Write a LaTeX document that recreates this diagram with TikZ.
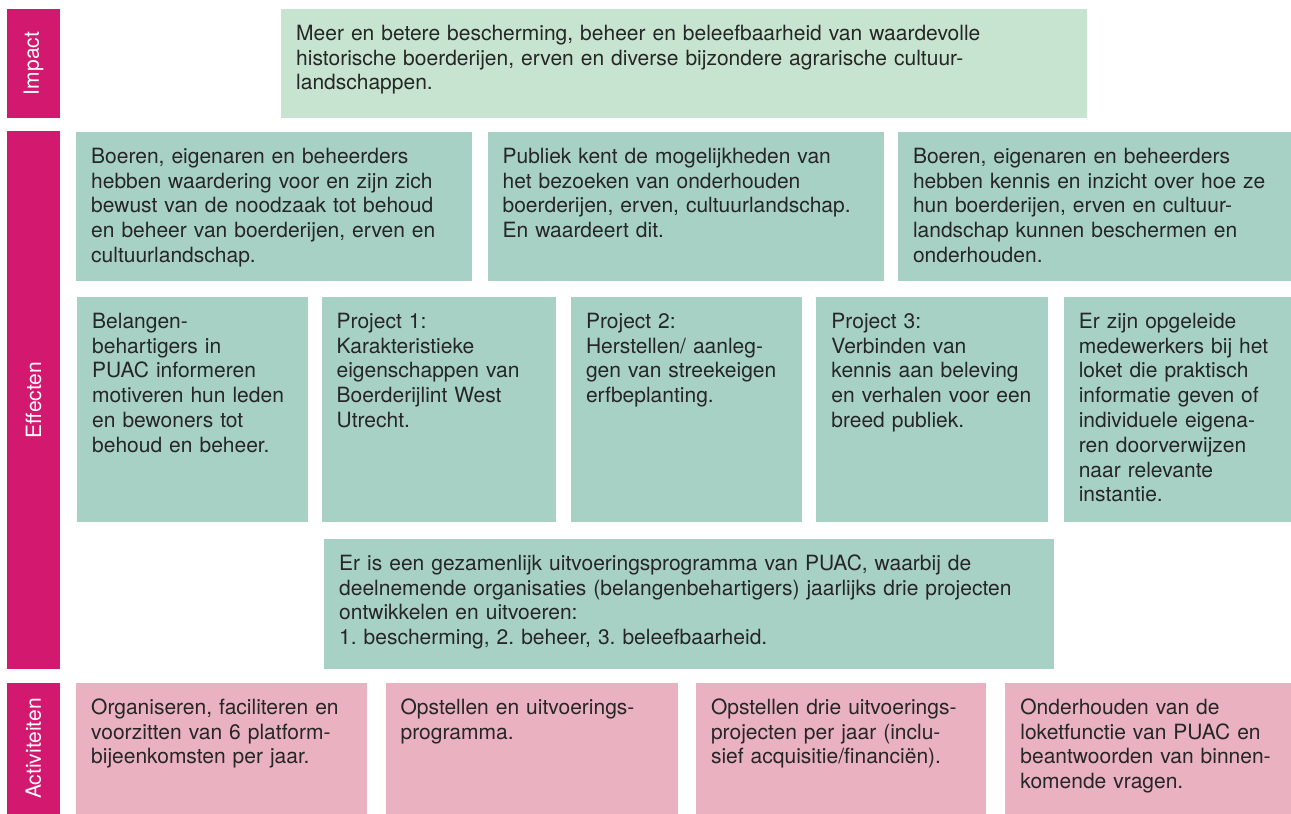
\documentclass[tikz,border=0pt]{standalone}
\usepackage{fontspec}
\setmainfont{TeX Gyre Heros}
\usetikzlibrary{positioning}
\frenchspacing
\definecolor{puacmagenta}{HTML}{D3186F}
\definecolor{impactgreen}{HTML}{C6E4CF}
\definecolor{effectteal}{HTML}{A8D1C5}
\definecolor{activitypink}{HTML}{EAB1C1}
\definecolor{bodytext}{HTML}{262626}
\tikzstyle{bar}=[fill=puacmagenta, text=white, rotate=90, minimum height=53pt, inner sep=0pt, font=\fontsize{21}{24}\selectfont]
\tikzstyle{card}=[anchor=north west, align=left, text=bodytext, inner xsep=15pt, inner ysep=16pt, text height=15pt, font=\fontsize{21}{24.8}\selectfont]
\tikzstyle{impact}=[card, fill=impactgreen]
\tikzstyle{effect}=[card, fill=effectteal]
\tikzstyle{activity}=[card, fill=activitypink]

\begin{document}
\begin{tikzpicture}[x=1pt,y=-1pt]
  \useasboundingbox (0,0) rectangle (1291,814);

  \node [bar, minimum width=109pt] (bimpact) at (33.5,63.5) {Impact};
  \node [bar, minimum width=538pt] (beffect) at (33.5,400) {Effecten};
  \node [bar, minimum width=131pt] (bactivity) at (33.5,748.5) {Activiteiten};

  \node [impact, text width=776pt, text depth=62pt] (imp) at (281,9) {Meer en betere bescherming, beheer en beleefbaarheid van waardevolle\\historische boerderijen, erven en diverse bijzondere agrarische cultuur-\\landschappen.};

  \node [effect, text width=366pt, text depth=102pt] (e11) at (76,132) {Boeren, eigenaren en beheerders\\hebben waardering voor en zijn zich\\bewust van de noodzaak tot behoud\\en beheer van boerderijen, erven en\\cultuurlandschap.};
  \node [effect, text width=366pt, text depth=102pt] (e12) [right=15pt of e11] {Publiek kent de mogelijkheden van\\het bezoeken van onderhouden\\boerderijen, erven, cultuurlandschap.\\En waardeert dit.};
  \node [effect, text width=364pt, text depth=102pt] (e13) [right=14pt of e12] {Boeren, eigenaren en beheerders\\hebben kennis en inzicht over hoe ze\\hun boerderijen, erven en cultuur-\\landschap kunnen beschermen en\\onderhouden.};

  \node [effect, text width=201pt, text depth=178pt] (e21) at (77,297) {Belangen-\\behartigers in\\PUAC informeren\\motiveren hun leden\\en bewoners tot\\behoud en beheer.};
  \node [effect, text width=204pt, text depth=178pt] (e22) [right=13pt of e21] {Project 1:\\Karakteristieke\\eigenschappen van\\Boerderijlint West\\Utrecht.};
  \node [effect, text width=201pt, text depth=178pt] (e23) [right=15pt of e22] {Project 2:\\Herstellen/ aanleg-\\gen van streekeigen\\erfbeplanting.};
  \node [effect, text width=202pt, text depth=178pt] (e24) [right=14pt of e23] {Project 3:\\Verbinden van\\kennis aan beleving\\en verhalen voor een\\breed publiek.};
  \node [effect, text width=199pt, text depth=178pt] (e25) [right=15pt of e24] {Er zijn opgeleide\\medewerkers bij het\\loket die praktisch\\informatie geven of\\individuele eigena-\\ren doorverwijzen\\naar relevante\\instantie.};

  \node [effect, text width=700pt, text depth=83pt] (prog) at (324,539) {Er is een gezamenlijk uitvoeringsprogramma van PUAC, waarbij de\\deelnemende organisaties (belangenbehartigers) jaarlijks drie projecten\\ontwikkelen en uitvoeren:\\1. bescherming, 2. beheer, 3. beleefbaarheid.};

  \node [activity, text width=261pt, text depth=84pt] (a1) at (76,683) {Organiseren, faciliteren en\\voorzitten van 6 platform-\\bijeenkomsten per jaar.};
  \node [activity, text width=262pt, text depth=84pt] (a2) [right=18pt of a1] {Opstellen en uitvoerings-\\programma.};
  \node [activity, text width=260pt, text depth=84pt] (a3) [right=18pt of a2] {Opstellen drie uitvoerings-\\projecten per jaar (inclu-\\sief acquisitie/financiën).};
  \node [activity, text width=257pt, text depth=84pt] (a4) [right=19pt of a3] {Onderhouden van de\\loketfunctie van PUAC en\\beantwoorden van binnen-\\komende vragen.};
\end{tikzpicture}
\end{document}
